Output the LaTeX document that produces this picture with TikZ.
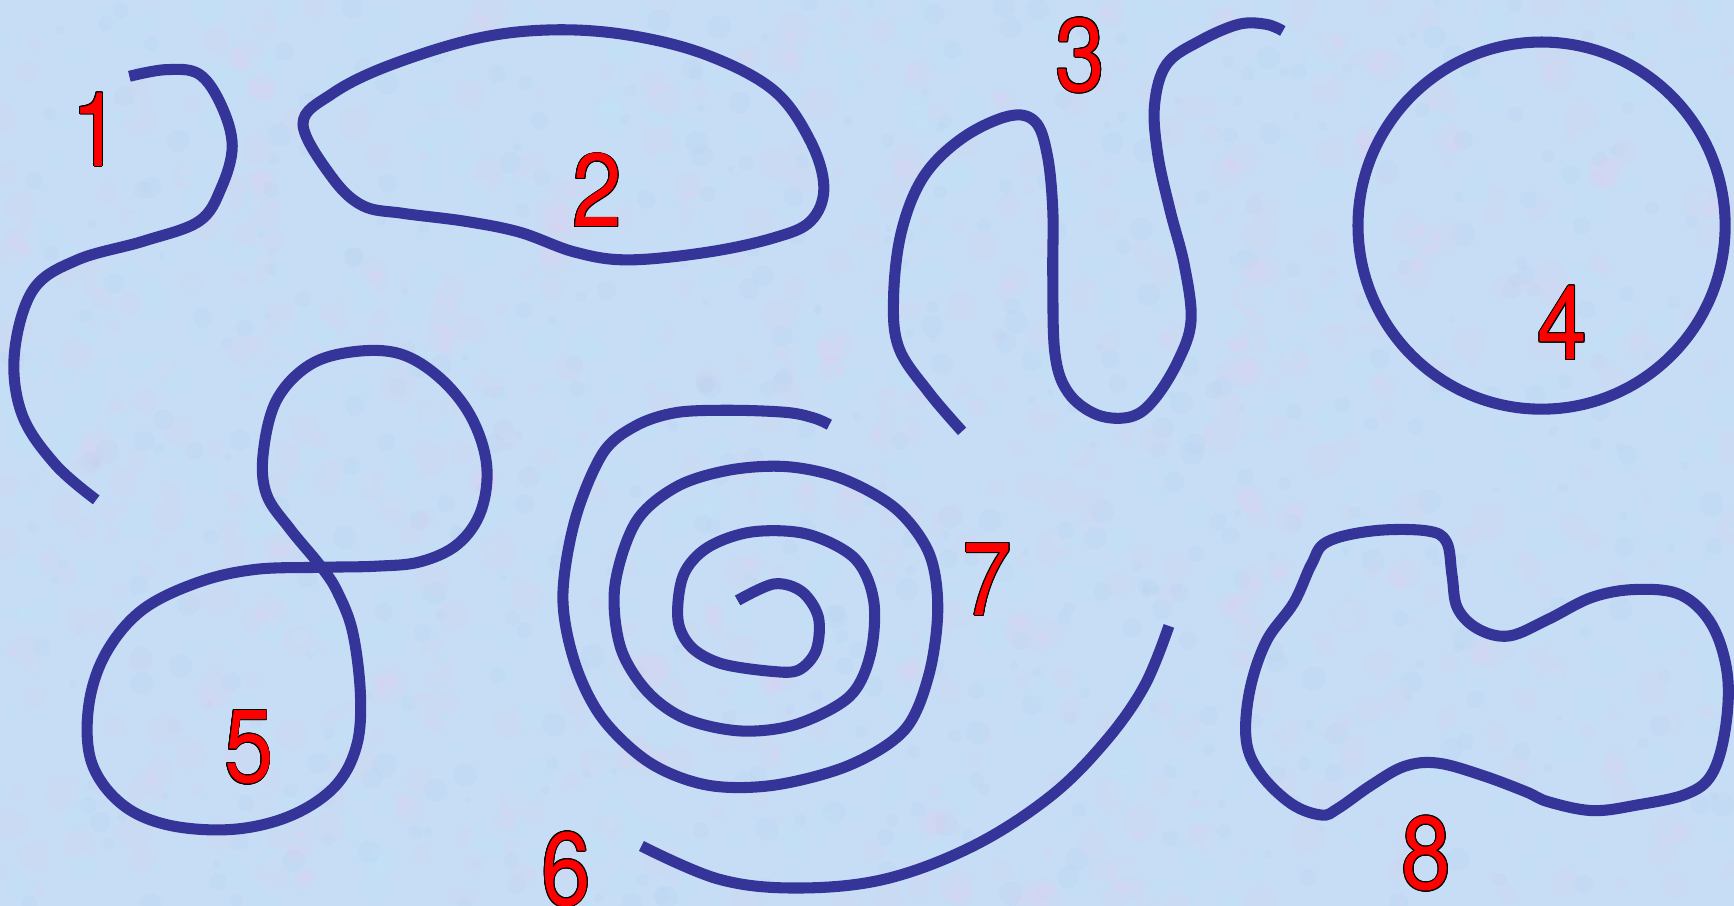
\documentclass[tikz,border=0pt]{standalone}
\usepackage{fontspec}
\usepackage{graphicx}
\setmainfont{TeX Gyre Heros}
\definecolor{bgblue}{RGB}{198,221,245}
\definecolor{speckpink}{RGB}{222,208,240}
\definecolor{speckcyan}{RGB}{192,230,250}
\definecolor{speckblue}{RGB}{185,208,240}
\definecolor{curveblue}{RGB}{53,53,153}
\tikzset{
  curve/.style={draw=curveblue,line width=6.3pt,line cap=butt,line join=round},
  numstyle/.style={inner sep=0pt,anchor=center,font=\fontsize{59}{59}\selectfont}
}
\newcommand\numlab[3]{%
  \foreach \a in {0,30,...,330}{%
    \node[numstyle,text=black,xshift={cos(\a)*0.55pt},yshift={sin(\a)*0.55pt}] (#1o\a) at #2 {\scalebox{0.86}[1]{#3}};}
  \node[numstyle,text=red] (#1) at #2 {\scalebox{0.86}[1]{#3}};}
\begin{document}
\begin{tikzpicture}[x=0.0221173cm,y=-0.0221173cm]
\useasboundingbox (0,0) rectangle (1568,819);
\fill[bgblue] (0,0) rectangle (1568,819);
\begin{scope}
\clip (0,0) rectangle (1568,819);
\pgfmathsetseed{7}
\foreach \i in {1,...,700}{%
  \pgfmathsetmacro\px{rnd*1568}\pgfmathsetmacro\py{rnd*819}\pgfmathsetmacro\pr{4+rnd*12}%
  \fill[speckpink,opacity=0.22] (\px,\py) circle[radius=\pr];}
\foreach \i in {1,...,700}{%
  \pgfmathsetmacro\px{rnd*1568}\pgfmathsetmacro\py{rnd*819}\pgfmathsetmacro\pr{4+rnd*12}%
  \fill[speckcyan,opacity=0.22] (\px,\py) circle[radius=\pr];}
\foreach \i in {1,...,500}{%
  \pgfmathsetmacro\px{rnd*1568}\pgfmathsetmacro\py{rnd*819}\pgfmathsetmacro\pr{3+rnd*8}%
  \fill[speckblue,opacity=0.2] (\px,\py) circle[radius=\pr];}
\end{scope}
% 1
\draw[curve] plot[smooth,tension=0.6] coordinates {(117,69) (150,63) (180,67) (200,95) (210,132) (200,170) (180,200) (130,218) (70,235) (30,262) (13,320) (20,375) (50,420) (87,452)};
% 2
\draw[curve] plot[smooth cycle,tension=0.6] coordinates {(274,112) (300,85) (350,60) (430,35) (500,27) (570,32) (640,50) (700,82) (733,128) (745,170) (733,200) (700,215) (640,228) (568,235) (520,228) (470,210) (420,200) (365,193) (328,186) (300,160)};
% 3
\draw[curve] plot[smooth,tension=0.6] coordinates {(870,390) (840,355) (813,315) (808,270) (815,210) (835,160) (870,125) (912,105) (936,110) (947,140) (952,190) (952,250) (954,320) (966,355) (992,375) (1022,377) (1043,362) (1065,327) (1077,290) (1071,240) (1058,190) (1047,140) (1044,95) (1055,58) (1085,37) (1120,22) (1145,22) (1160,28)};
% 4
\draw[curve] (1394,204) circle[radius=166];
% 5
\draw[curve] plot[smooth cycle,tension=0.6] coordinates {(290,512) (262,478) (241,447) (238,410) (250,362) (280,330) (320,318) (362,320) (398,342) (426,377) (440,420) (435,462) (414,492) (380,508) (340,512) (290,513) (230,515) (178,527) (128,552) (95,592) (80,640) (83,690) (110,727) (152,746) (210,750) (262,738) (302,712) (322,676) (326,630) (319,572) (305,535)};
% spiral (7)
\draw[curve] plot[smooth,tension=0.55] coordinates {(667,543) (700,528) (725,535) (740,558) (738,588) (722,606) (697,607) (652,600) (625,585) (613,560) (618,520) (640,495) (680,481) (730,483) (773,505) (790,543) (787,592) (768,630) (720,655) (670,661) (620,650) (585,625) (561,585) (556,530) (575,472) (612,440) (660,425) (712,422) (762,433) (810,460) (840,500) (848,550) (840,610) (818,660) (768,692) (700,710) (640,710) (588,690) (545,650) (520,600) (509,540) (520,470) (545,410) (575,385) (612,373) (662,371) (712,373) (736,378) (750,384)};
% arc (6)
\draw[curve] plot[smooth,tension=0.6] coordinates {(580,765) (650,795) (720,803) (800,795) (880,765) (950,720) (1000,670) (1035,620) (1057,566)};
% 8
\draw[curve] plot[smooth cycle,tension=0.6] coordinates {(1200,490) (1242,480) (1290,480) (1308,490) (1313,520) (1318,550) (1337,569) (1365,575) (1400,560) (1440,540) (1480,533) (1520,538) (1548,565) (1562,610) (1560,660) (1548,700) (1525,718) (1480,728) (1440,733) (1400,725) (1380,716) (1340,701) (1300,690) (1270,693) (1240,710) (1210,731) (1195,737) (1168,727) (1140,700) (1127,670) (1130,625) (1145,580) (1170,545) (1186,510)};
% labels
\numlab{n1}{(87,117)}{1}
\numlab{n2}{(540,172)}{2}
\numlab{n3}{(977,50)}{3}
\numlab{n4}{(1413,292)}{4}
\numlab{n5}{(225,676)}{5}
\numlab{n6}{(512,786)}{6}
\numlab{n7}{(893,524)}{7}
\numlab{n8}{(1290,772)}{8}
\end{tikzpicture}
\end{document}
